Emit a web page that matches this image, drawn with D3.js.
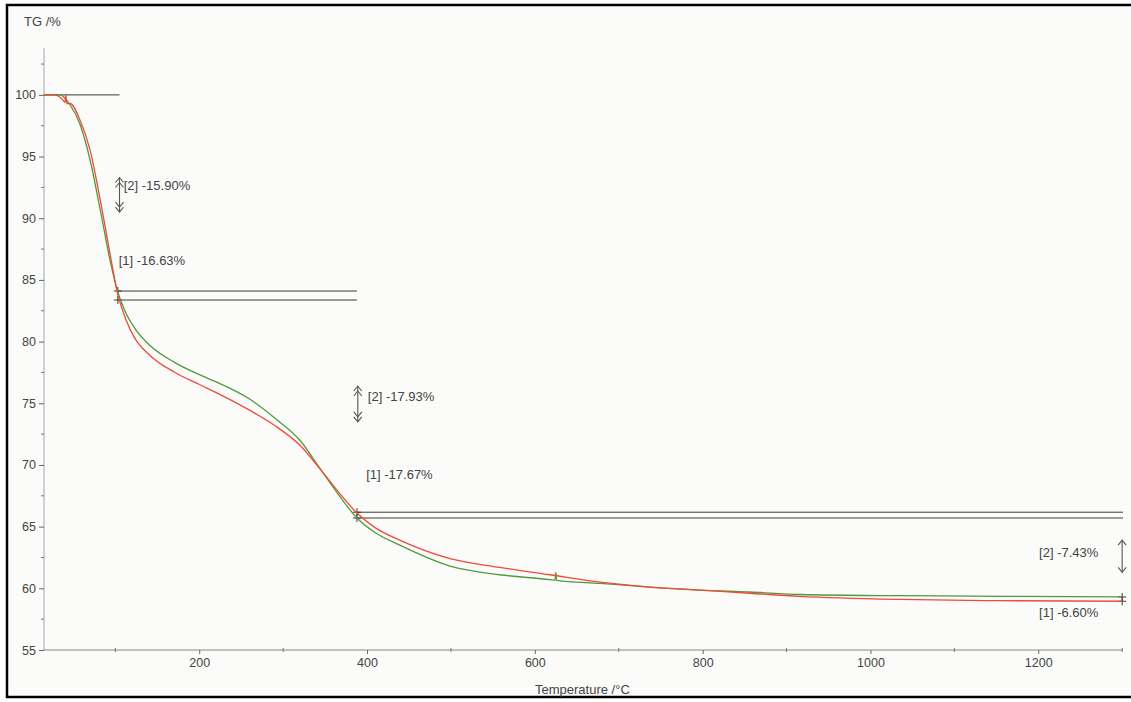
<!DOCTYPE html>
<html><head><meta charset="utf-8">
<script src="https://cdn.jsdelivr.net/npm/d3@7"></script>
<style>
body{margin:0;background:#fff;}
svg{display:block;font-family:"Liberation Sans",Arial,sans-serif;}
</style></head>
<body>
<svg id="c" width="1131" height="702"></svg>
<script>
// ---- data ----
const tempRed   = [15,28,36,40,41,42,46,58,70,82,94,103,112,123,141,171,201,231,261,290,320,345,366,388,410,439,499,558,618,678,737,797,856,916,1035,1154,1300];
const tgRed     = [100,100,99.7,99.4,100.0,99.3,99.3,97.95,95.5,91.5,87.0,83.8,81.9,80.3,78.9,77.5,76.5,75.5,74.4,73.2,71.6,69.6,67.8,66.1,64.9,63.9,62.4,61.7,61.1,60.5,60.1,59.85,59.6,59.35,59.1,59.0,58.95];
const tempGreen = [15,34,46,58,70,82,94,103,112,123,141,171,201,231,261,290,320,345,366,388,410,439,499,558,618,624,625,626,678,737,797,856,916,1035,1154,1300];
const tgGreen   = [100,100,99.2,97.6,94.7,90.7,86.5,84.0,82.4,81.1,79.7,78.3,77.3,76.4,75.3,73.8,72.0,69.6,67.6,65.7,64.5,63.5,61.8,61.1,60.7,60.65,61.3,60.65,60.4,60.1,59.85,59.7,59.5,59.4,59.35,59.3];
const yTicks = [55,60,65,70,75,80,85,90,95,100];
const xTicks = [200,400,600,800,1000,1200];
// step levels (start/end of each step) and step temperatures
const levels2 = [84.10, 66.17, 59.30];
const levels1 = [83.37, 65.70, 58.95];
const stepTemps = [103, 388, 1300];
const labels = ["[2] -15.90%","[1] -16.63%","[2] -17.93%","[1] -17.67%","[2] -7.43%","[1] -6.60%"];
const labelPos = [[110,92.3],[104,86.2],[401,75.2],[399,68.9],[1201,62.5],[1201,57.7]];
const arrows = [[105,93.3,90.5,2],[389,76.4,73.5,2],[1300,63.9,61.3,1]];

// ---- chart ----
const svg = d3.select("#c");
svg.append("rect").attr("x",0).attr("y",0).attr("width",1131).attr("height",702).attr("fill","#fff");
svg.append("rect").attr("x",7).attr("y",5).attr("width",1135).attr("height",692)
  .attr("fill","#fbfbf9").attr("stroke","#000").attr("stroke-width",2.5);

const x = d3.scaleLinear().domain([15,1301]).range([44,1123]);
const y = d3.scaleLinear().domain([55,103.8]).range([650,48]);

// axes
const yAxis = d3.axisLeft(y).tickValues(yTicks).tickSize(5).tickPadding(3);
const gy = svg.append("g").attr("transform","translate(44,0)").call(yAxis);
gy.select(".domain").attr("stroke","#9aa")
  .attr("d", `M0,${y(103.8)}V${y(55)}`);
gy.selectAll(".tick line").attr("stroke","#666");
gy.selectAll(".tick text").attr("fill","#444").style("font-size","12.5px");
// minor y ticks
svg.append("g").selectAll("line").data(d3.range(57.5,103,5)).join("line")
  .attr("x1",41).attr("x2",44).attr("y1",d=>y(d)).attr("y2",d=>y(d)).attr("stroke","#777");

const xAxis = d3.axisBottom(x).tickValues(xTicks).tickFormat(d3.format("d")).tickSize(4).tickPadding(4);
const gx = svg.append("g").attr("transform",`translate(0,${y(55)})`).call(xAxis);
gx.select(".domain").attr("stroke","#888").attr("d",`M${x(15)},0H${x(1301)}`);
gx.selectAll(".tick line").attr("stroke","#666");
gx.selectAll(".tick text").attr("fill","#444").style("font-size","12.5px");
svg.append("g").selectAll("line").data(d3.range(100,1301,200)).join("line")
  .attr("x1",d=>x(d)).attr("x2",d=>x(d)).attr("y1",y(55)-2).attr("y2",y(55)+2).attr("stroke","#777");

svg.append("text").attr("x",24).attr("y",26).attr("fill","#444").style("font-size","13px").text("TG /%");
svg.append("text").attr("x",535).attr("y",694).attr("fill","#444").style("font-size","13px").text("Temperature /°C");

// reference lines
const refG = svg.append("g").attr("stroke","#3a3a3a").attr("stroke-width",1);
refG.append("line").attr("x1",x(15)).attr("x2",x(105)).attr("y1",y(100)).attr("y2",y(100));
for (let i=0;i<2;i++){
  [levels2[i],levels1[i]].forEach(v=>{
    refG.append("line").attr("x1",x(stepTemps[i])).attr("x2",x(i===0?388:1301))
      .attr("y1",y(v)).attr("y2",y(v));
  });
}
// cross markers
const cross = [];
for (let i=0;i<3;i++){ cross.push([stepTemps[i],levels2[i]]); cross.push([stepTemps[i],levels1[i]]); }
cross.forEach(([t,v])=>{
  refG.append("line").attr("x1",x(t)-4).attr("x2",x(t)+4).attr("y1",y(v)).attr("y2",y(v));
  refG.append("line").attr("x1",x(t)).attr("x2",x(t)).attr("y1",y(v)-4).attr("y2",y(v)+4);
});

// curves
const line = d3.line().x(d=>x(d[0])).y(d=>y(d[1])).curve(d3.curveMonotoneX);
svg.append("path").datum(tempGreen.map((t,i)=>[t,tgGreen[i]]))
  .attr("d",line).attr("fill","none").attr("stroke","#4f9a3c").attr("stroke-width",1.3);
svg.append("path").datum(tempRed.map((t,i)=>[t,tgRed[i]]))
  .attr("d",line).attr("fill","none").attr("stroke","#f04a3a").attr("stroke-width",1.3);

// arrows
const ag = svg.append("g").attr("stroke","#555").attr("fill","none").attr("stroke-width",1.1);
arrows.forEach(([t,v1,v2,n])=>{
  const px=x(t), y1=y(v1), y2=y(v2);
  ag.append("line").attr("x1",px).attr("x2",px).attr("y1",y1).attr("y2",y2);
  for (let k=0;k<n;k++){
    ag.append("path").attr("d",`M${px-4},${y1+5+k*5}L${px},${y1+k*5}L${px+4},${y1+5+k*5}`);
    ag.append("path").attr("d",`M${px-4},${y2-5-k*5}L${px},${y2-k*5}L${px+4},${y2-5-k*5}`);
  }
});

// labels
svg.append("g").selectAll("text").data(labels).join("text")
  .attr("x",(d,i)=>x(labelPos[i][0])).attr("y",(d,i)=>y(labelPos[i][1]))
  .attr("fill","#444").style("font-size","13px").text(d=>d);
</script>
</body></html>
